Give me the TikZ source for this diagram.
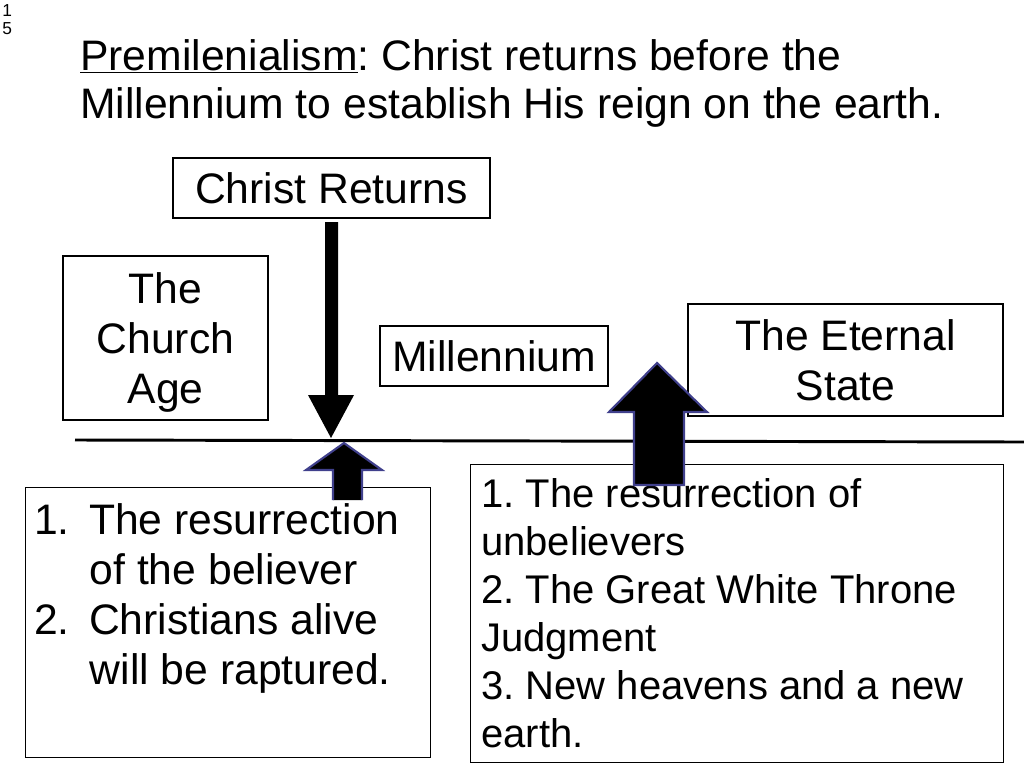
\documentclass[tikz,border=0pt]{standalone}
\usepackage{fontspec}
\setmainfont{Liberation Sans}
\begin{document}
\frenchspacing
\begin{tikzpicture}[x=0.75pt,y=-0.75pt,
  bx/.style={draw,line width=0.8pt,fill=white},
  big/.style={font=\fontsize{32}{37.5}\selectfont},
  upar/.style={fill=black,draw=black!40!blue!50!gray,line width=1.6pt,line join=miter}]
\useasboundingbox (0,0) rectangle (1024,768);
\node[anchor=north west,font=\fontsize{13}{14}\selectfont,inner sep=0] (n1) at (2,4) {1};
\node[anchor=north west,font=\fontsize{13}{14}\selectfont,inner sep=0] (n2) at (2,22) {5};
\node[anchor=north west,inner sep=0,align=left,font=\fontsize{32}{36}\selectfont] (title) at (80,39)
 {\underline{Premilenialism}: Christ returns before the\\Millennium to establish His reign on the earth.};
\node[bx,big,minimum width=317*0.75pt,minimum height=60*0.75pt] (cr) at (331.5,188) {Christ Returns};
\node[bx,minimum width=205*0.75pt,minimum height=164*0.75pt] (ca) at (165.5,338) {};
\node[big,align=center] (cat) at (165.5,342) {The\\Church\\Age};
\node[bx,big,minimum width=228*0.75pt,minimum height=60*0.75pt] (mil) at (494,356) {Millennium};
\node[bx,big,minimum width=315*0.75pt,minimum height=112*0.75pt,align=center] (es) at (845.5,360) {The Eternal\\State};
\coordinate (l1) at (75,440); \coordinate (l2) at (1024,442);
\draw[line width=2.2pt] (l1) -- (l2);
% down arrow
\fill (325,222) -- (338,222) -- (338,395) -- (354,395) -- (331,438) -- (308,395) -- (325,395) -- cycle;
% bottom-left box
\node[bx,anchor=north west,minimum width=405*0.75pt,minimum height=270*0.75pt] (bl) at (25,487) {};
\node[anchor=north west,align=left,inner sep=0,big] (blt) at (34,503)
 {1.\hspace{0.45em}The resurrection\\\hspace{1.3em}of the believer\\2.\hspace{0.45em}Christians alive\\\hspace{1.3em}will be raptured.};
% small up arrow
\draw[upar] (333,500) -- (333,470) -- (306,470) -- (344,443) -- (382,470) -- (362,470) -- (362,500);
% bottom-right box
\node[bx,anchor=north west,minimum width=533*0.75pt,minimum height=298*0.75pt] (br) at (470,464) {};
\node[anchor=north west,align=left,inner sep=0,font=\fontsize{30}{36}\selectfont] (brt) at (481,478)
 {1. The resurrection of\\unbelievers\\2. The Great White Throne\\Judgment\\3. New heavens and a new\\earth.};
% big up arrow
\draw[upar] (634,485) -- (634,412) -- (609,412) -- (657,363) -- (707,412) -- (684,412) -- (684,485) -- cycle;
\end{tikzpicture}
\end{document}
